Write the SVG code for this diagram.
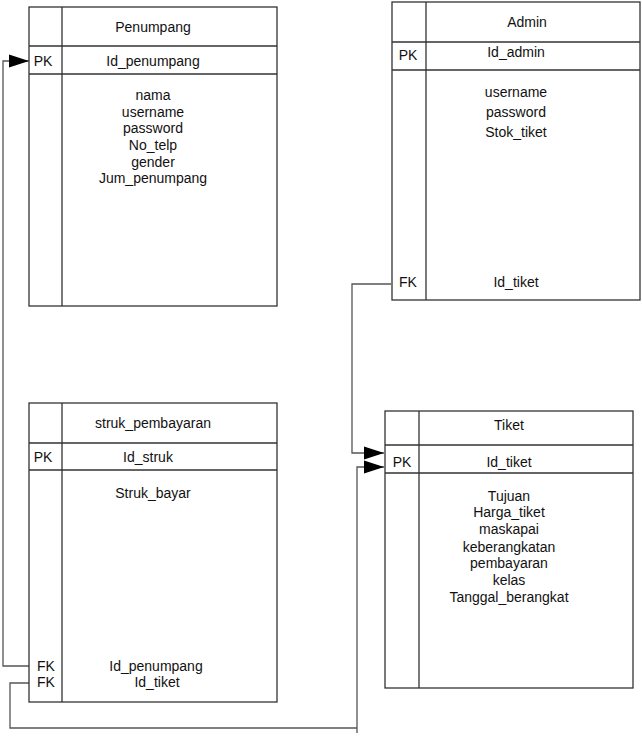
<svg xmlns="http://www.w3.org/2000/svg" width="642" height="736" viewBox="0 0 642 736">
<style>
text{font-family:"Liberation Sans",Arial,sans-serif;font-size:14px;fill:#111;text-anchor:middle}
.b{fill:#fff;stroke:#333;stroke-width:1.3}
.l{stroke:#333;stroke-width:1.3;fill:none}
.c{stroke:#555;stroke-width:1.3;fill:none;marker-end:url(#arr)}
</style>
<defs>
<marker id="arr" markerUnits="userSpaceOnUse" markerWidth="21" markerHeight="14" refX="20" refY="7" orient="auto">
<path d="M0,0.5 L20,7 L0,13.5 z" fill="#000"/>
</marker>
</defs>
<rect width="642" height="736" fill="#fff"/>
<g id="connectors">
<path class="c" d="M29,666 H3 V61 H29"/>
<path class="c" d="M391,284 H352 V453 H384"/>
<path class="l" style="stroke:#555" d="M29,683 H10 V728 H357"/>
<path class="c" d="M357,733 V467 H384"/>
</g>
<g id="penumpang">
<rect class="b" x="29" y="7" width="248" height="299"/>
<path class="l" d="M62,7 V306 M29,46 H277 M29,74 H277"/>
<text x="153" y="32">Penumpang</text>
<text x="43" y="66">PK</text>
<text x="153" y="66">Id_penumpang</text>
<text x="153" y="100">nama</text>
<text x="153" y="117">username</text>
<text x="153" y="133">password</text>
<text x="153" y="150">No_telp</text>
<text x="153" y="167">gender</text>
<text x="153" y="183">Jum_penumpang</text>
</g>
<g id="admin">
<rect class="b" x="392" y="2" width="248" height="298"/>
<path class="l" d="M426,2 V300 M392,42 H640 M392,70 H640"/>
<text x="527" y="27">Admin</text>
<text x="408" y="60">PK</text>
<text x="516" y="57">Id_admin</text>
<text x="516" y="97">username</text>
<text x="516" y="117">password</text>
<text x="516" y="137">Stok_tiket</text>
<text x="408" y="287">FK</text>
<text x="516" y="287">Id_tiket</text>
</g>
<g id="struk_pembayaran">
<rect class="b" x="29" y="403" width="248" height="299"/>
<path class="l" d="M62,403 V702 M29,443 H277 M29,470 H277"/>
<text x="153" y="428">struk_pembayaran</text>
<text x="43" y="462">PK</text>
<text x="148" y="462">Id_struk</text>
<text x="153" y="498">Struk_bayar</text>
<text x="46" y="671">FK</text>
<text x="156" y="671">Id_penumpang</text>
<text x="46" y="687">FK</text>
<text x="157" y="687">Id_tiket</text>
</g>
<g id="tiket">
<rect class="b" x="385" y="411" width="248" height="277"/>
<path class="l" d="M419,411 V688 M385,445 H633 M385,473 H633"/>
<text x="509" y="430">Tiket</text>
<text x="402" y="467">PK</text>
<text x="509" y="467">Id_tiket</text>
<text x="509" y="501">Tujuan</text>
<text x="509" y="517">Harga_tiket</text>
<text x="509" y="534">maskapai</text>
<text x="509" y="552">keberangkatan</text>
<text x="509" y="568">pembayaran</text>
<text x="509" y="585">kelas</text>
<text x="509" y="602">Tanggal_berangkat</text>
</g>
</svg>
